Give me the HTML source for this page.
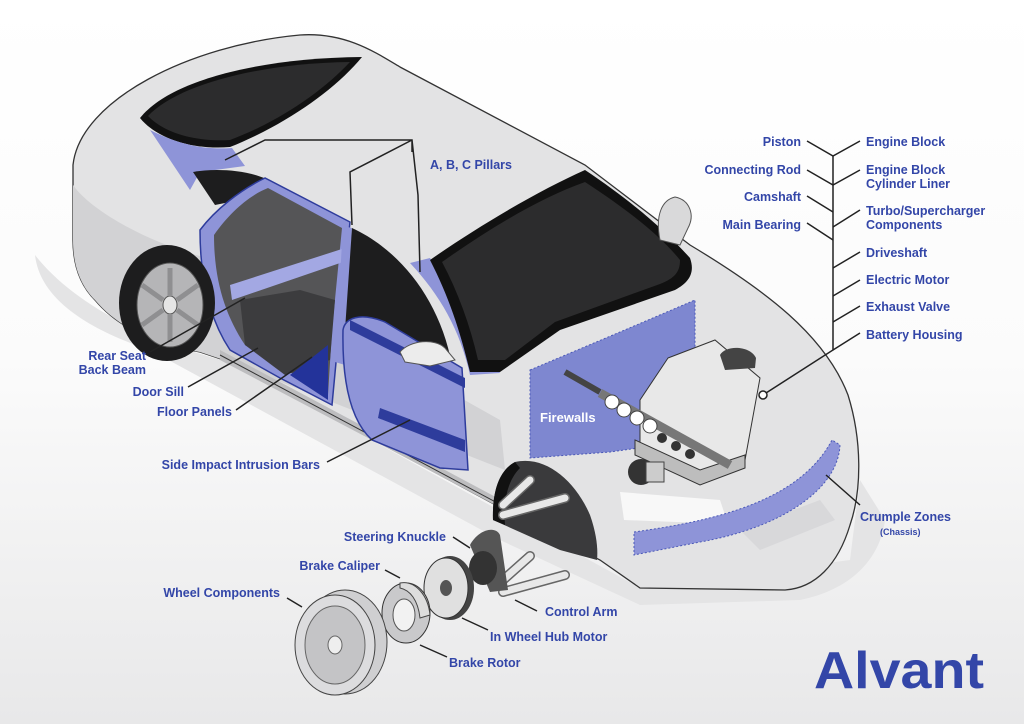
<!DOCTYPE html>
<html><head><meta charset="utf-8"><style>
html,body{margin:0;padding:0;width:1024px;height:724px;overflow:hidden;background:#fff}
svg{display:block}
text{font-family:"Liberation Sans",sans-serif;font-weight:bold;fill:#3346a8;font-size:12.5px}
</style></head><body>
<svg width="1024" height="724" viewBox="0 0 1024 724">
<defs>
<linearGradient id="bg" x1="0" y1="0" x2="0" y2="1">
<stop offset="0" stop-color="#ffffff"/><stop offset="0.5" stop-color="#fbfbfb"/><stop offset="1" stop-color="#e8e8e9"/>
</linearGradient>
</defs>
<rect width="1024" height="724" fill="url(#bg)"/>
<!-- ground shadow -->
<path d="M35,255 C40,300 90,330 150,350 L500,540 L640,605 L800,600 C850,590 880,560 885,520 L860,480 L850,560 L640,588 L230,362 C140,340 70,300 35,255 Z" fill="#e4e4e5"/>
<!-- car body -->
<path d="M73,165 C80,100 190,45 300,35 C345,32 375,52 400,67 L585,165 L690,245 C765,290 825,335 848,395 C862,440 862,490 850,525 C838,565 815,588 785,590 L640,588 L600,560 L520,518 L230,362 L200,352 C160,345 120,330 95,300 C80,285 73,265 73,240 Z" fill="#e3e3e4" stroke="#333" stroke-width="1.3"/>
<!-- lower side darker -->
<path d="M73,185 C90,210 150,245 215,260 L500,420 L505,470 L230,362 L200,352 C160,345 120,330 95,300 C80,285 73,265 73,240 Z" fill="#d2d2d4"/>
<path d="M220,350 L520,510 L520,518 L220,360 Z" fill="#bdbdbf"/>
<line x1="220" y1="355" x2="520" y2="515" stroke="#333" stroke-width="1"/>
<!-- rear window -->
<path d="M140,118 C170,80 260,58 362,57 C335,90 285,125 230,147 C195,150 158,140 140,118 Z" fill="#111"/>
<path d="M148,116 C178,84 262,63 350,62 C322,92 278,122 230,140 C198,142 165,134 148,116 Z" fill="#2c2c2d"/>
<!-- C pillar blue -->
<path d="M150,130 C180,145 205,150 232,148 L245,166 L200,172 L190,190 Z" fill="#8e94d8"/>
<!-- rear side window -->
<path d="M193,172 C215,168 245,170 264,178 L240,200 L215,205 Z" fill="#1d1d1e"/>
<!-- door opening -->
<path d="M200,230 C215,210 240,190 265,178 L350,222 L340,320 L332,405 L280,378 L230,350 C210,320 200,280 200,230 Z" fill="#8e94d8" stroke="#2e3c9c" stroke-width="1.5"/>
<path d="M214,235 C230,212 250,195 268,188 L342,228 L332,330 L328,395 L245,345 C225,315 214,280 214,235 Z" fill="#555557"/>
<path d="M240,300 L300,290 L335,300 L330,360 L285,375 L245,345 Z" fill="#3c3c3e"/>
<path d="M290,375 L328,345 L328,400 Z" fill="#23339a"/>
<path d="M230,285 L345,248 L343,262 L232,300 Z" fill="#a3a8e3"/>
<!-- B pillar -->
<path d="M343,226 L352,228 L345,365 L335,362 Z" fill="#8e94d8"/>
<!-- front side window -->
<path d="M352,228 C400,250 440,300 452,365 L400,345 L345,330 Z" fill="#1d1d1e"/>
<!-- A pillar -->
<path d="M410,263 L430,258 C455,300 480,340 500,373 L470,375 C460,330 440,295 410,263 Z" fill="#8e94d8"/>
<!-- windshield -->
<path d="M430,260 C480,225 540,190 585,170 C630,200 665,230 690,258 C695,272 690,282 675,290 L560,330 L500,372 L470,372 C460,330 448,295 430,260 Z" fill="#111"/>
<path d="M442,262 C490,228 540,198 585,182 C625,208 660,235 680,260 C680,272 675,278 660,284 L555,322 L505,360 L478,360 C470,325 458,292 442,262 Z" fill="#2c2c2d"/>
<!-- mirror right -->
<path d="M660,240 C655,215 662,200 675,197 C690,200 695,215 688,228 L680,245 Z" fill="#d9d9da" stroke="#555"/>
<!-- door -->
<path d="M343,330 C345,318 360,312 385,322 L462,368 L468,470 L440,468 L372,440 C350,420 342,380 343,330 Z" fill="#8e94d8" stroke="#2e3c9c" stroke-width="1.5"/>
<path d="M350,320 L465,378 L465,388 L350,330 Z" fill="#2e3c9c"/>
<path d="M380,408 L465,440 L465,452 L378,418 Z" fill="#2e3c9c"/>
<path d="M400,352 C410,340 435,338 445,348 L455,360 L430,366 L405,362 Z" fill="#ececec" stroke="#555"/>
<!-- rear wheel -->
<ellipse cx="167" cy="303" rx="48" ry="58" fill="#1d1d1e"/>
<ellipse cx="170" cy="305" rx="33" ry="42" fill="#b5b5b7" stroke="#555"/>
<ellipse cx="170" cy="305" rx="7" ry="9" fill="#e5e5e5" stroke="#555"/>
<g stroke="#8f8f91" stroke-width="5">
<line x1="170" y1="296" x2="170" y2="268"/><line x1="170" y1="314" x2="170" y2="342"/>
<line x1="163" y1="300" x2="142" y2="285"/><line x1="177" y1="310" x2="198" y2="325"/>
<line x1="163" y1="310" x2="142" y2="325"/><line x1="177" y1="300" x2="198" y2="285"/>
</g>
<!-- front wheel well -->
<path d="M493,520 C492,490 500,470 515,462 C545,455 575,480 590,515 C597,535 598,550 597,560 L560,550 Z" fill="#3a3a3c"/>
<path d="M493,520 C492,490 500,470 515,462 L520,468 C508,480 503,500 505,525 Z" fill="#111"/>
<!-- firewall -->
<path d="M530,370 L620,332 L695,300 L695,440 L610,452 L530,458 Z" fill="#7e87d0" stroke="#4b59b8" stroke-dasharray="2,2"/>
<text x="540" y="422" style="fill:#fff;font-size:13px">Firewalls</text>
<!-- engine -->
<path d="M668,358 L715,340 L760,378 L745,460 L700,480 L640,450 L640,400 Z" fill="#e8e8e8" stroke="#333"/>
<path d="M635,440 L700,470 L745,455 L745,468 L700,485 L635,455 Z" fill="#bdbdbd" stroke="#333"/>
<path d="M565,372 L600,392" stroke="#444" stroke-width="6"/>
<path d="M600,393 L730,465" stroke="#777" stroke-width="9"/>
<circle cx="612" cy="402" r="7" fill="#fff" stroke="#444"/>
<circle cx="624" cy="410" r="7" fill="#fff" stroke="#444"/>
<circle cx="637" cy="418" r="7" fill="#fff" stroke="#444"/>
<circle cx="650" cy="426" r="7" fill="#fff" stroke="#444"/>
<circle cx="662" cy="438" r="5" fill="#333"/>
<circle cx="676" cy="446" r="5" fill="#333"/>
<circle cx="690" cy="454" r="5" fill="#333"/>
<path d="M720,355 C725,345 750,345 756,358 L755,368 L725,370 Z" fill="#444"/>
<circle cx="641" cy="472" r="13" fill="#333"/>
<rect x="646" y="462" width="18" height="20" fill="#ccc" stroke="#444"/>
<!-- headlight/bumper -->
<path d="M620,492 L720,500 L728,524 L624,520 Z" fill="#f8f8f8"/>
<path d="M740,530 L820,500 L835,520 L760,550 Z" fill="#d8d8da"/>
<path d="M634,532 C720,520 800,500 832,440 L840,445 C838,490 780,528 700,542 L634,555 Z" fill="#8e94d8" stroke="#4b59b8" stroke-dasharray="2,2"/>
<!-- suspension -->
<g stroke-linecap="round">
<path d="M503,505 L530,480 M503,515 L565,498 M503,580 L530,556 M503,592 L565,575" stroke="#666" stroke-width="10"/>
<path d="M503,505 L530,480 M503,515 L565,498 M503,580 L530,556 M503,592 L565,575" stroke="#e8e8e8" stroke-width="7"/>
</g>
<path d="M470,545 C478,530 495,525 500,535 L508,590 L490,592 Z" fill="#555"/>
<ellipse cx="483" cy="568" rx="14" ry="17" fill="#333"/>
<!-- hub motor -->
<ellipse cx="450" cy="588" rx="24" ry="32" fill="#444"/>
<ellipse cx="446" cy="588" rx="22" ry="30" fill="#e0e0e0" stroke="#333"/>
<ellipse cx="446" cy="588" rx="6" ry="8" fill="#555"/>
<!-- brake rotor -->
<ellipse cx="406" cy="613" rx="24" ry="30" fill="#c9c9cb" stroke="#333"/>
<ellipse cx="404" cy="615" rx="11" ry="16" fill="#f2f2f2" stroke="#555"/>
<path d="M400,583 C415,580 428,595 430,615 L420,618 C418,600 410,590 400,588 Z" fill="#ddd" stroke="#444"/>
<!-- wheel -->
<ellipse cx="345" cy="642" rx="42" ry="52" fill="#cfcfd1" stroke="#444"/>
<ellipse cx="335" cy="645" rx="40" ry="50" fill="#dcdcde" stroke="#444"/>
<ellipse cx="335" cy="645" rx="30" ry="39" fill="#c4c4c6" stroke="#666"/>
<ellipse cx="335" cy="645" rx="7" ry="9" fill="#eee" stroke="#666"/>
<!-- leader lines -->
<g stroke="#222" stroke-width="1.5" fill="none">
<path d="M225,160 L265,140 L412,140 L412,152 M412,140 L350,172 L352,225 M412,140 L418,195 L420,272"/>
<path d="M807,141 L833,156 L860,141 M807,170 L833,185 L860,170 M807,196 L833,212 M860,210 L833,227 M807,223 L833,240 M860,252 L833,268 M860,280 L833,296 M860,306 L833,322 M860,333 L833,350"/>
<path d="M833,156 L833,350 L766,393"/>
<path d="M150,352 L245,298 M188,387 L258,348 M236,410 L312,357 M327,462 L410,420"/>
<path d="M860,505 L826,475"/>
<path d="M453,537 L470,548 M385,570 L400,578 M287,598 L302,607 M537,611 L515,600 M488,630 L462,618 M447,657 L420,645"/>
</g>
<circle cx="763" cy="395" r="4" fill="#fff" stroke="#222" stroke-width="1.5"/>
<!-- labels -->
<text x="430" y="169">A, B, C Pillars</text>
<g text-anchor="end">
<text x="801" y="146">Piston</text>
<text x="801" y="174">Connecting Rod</text>
<text x="801" y="201">Camshaft</text>
<text x="801" y="229">Main Bearing</text>
<text x="146" y="360">Rear Seat</text>
<text x="146" y="374">Back Beam</text>
<text x="184" y="396">Door Sill</text>
<text x="232" y="416">Floor Panels</text>
<text x="320" y="469">Side Impact Intrusion Bars</text>
<text x="446" y="541">Steering Knuckle</text>
<text x="380" y="570">Brake Caliper</text>
<text x="280" y="597">Wheel Components</text>
</g>
<text x="866" y="146">Engine Block</text>
<text x="866" y="174">Engine Block</text>
<text x="866" y="188">Cylinder Liner</text>
<text x="866" y="215">Turbo/Supercharger</text>
<text x="866" y="229">Components</text>
<text x="866" y="257">Driveshaft</text>
<text x="866" y="284">Electric Motor</text>
<text x="866" y="311">Exhaust Valve</text>
<text x="866" y="339">Battery Housing</text>
<text x="860" y="521">Crumple Zones</text>
<text x="880" y="535" style="font-size:9px">(Chassis)</text>
<text x="545" y="616">Control Arm</text>
<text x="490" y="641">In Wheel Hub Motor</text>
<text x="449" y="667">Brake Rotor</text>
<text x="814" y="688" textLength="170" lengthAdjust="spacingAndGlyphs" style="font-size:52px;font-weight:900">Alvant</text>
</svg>
</body></html>
